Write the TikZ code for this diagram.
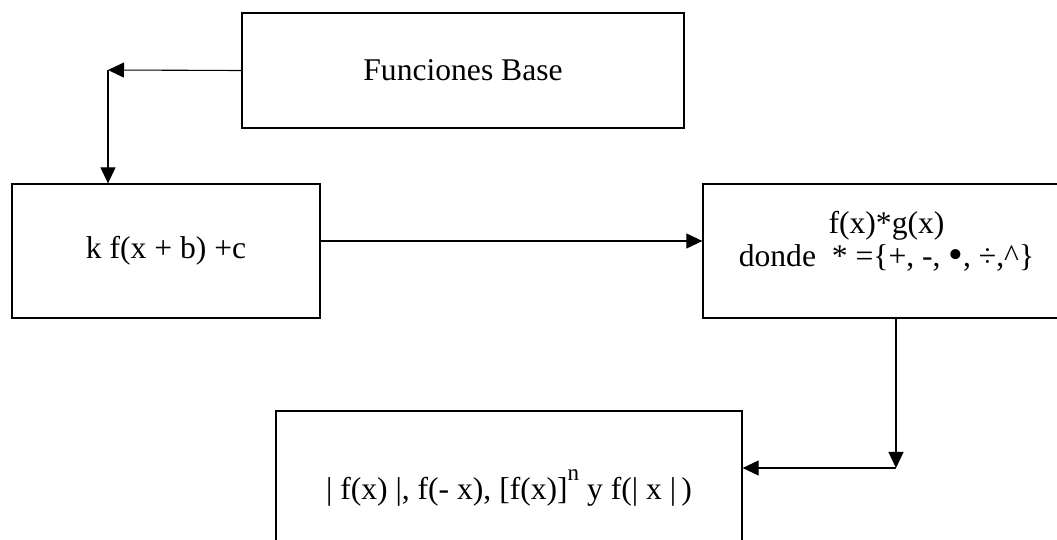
\documentclass[tikz,border=0pt]{standalone}
\usepackage{fontspec}
\setmainfont{Liberation Serif}
\usetikzlibrary{arrows.meta,positioning,calc}

\newcommand{\bigdot}{\raisebox{-0.8pt}{\fontsize{21}{16}\selectfont\textbullet}}
\newcommand{\hisup}[1]{\raisebox{0.6em}{\fontsize{11.5}{12}\selectfont #1}}

\begin{document}
\begin{tikzpicture}[
  x=0.5pt, y=-0.5pt,
  font=\fontsize{15.8}{16.3}\selectfont,
  blk/.style = {draw=black, line width=0.65pt, fill=white, align=center, inner sep=0pt},
  ln/.style  = {-{Triangle[length=8pt, width=7.5pt]}, draw=black, line width=0.55pt},
]
\useasboundingbox (0,0) rectangle (1057,540);
\clip (0,0) rectangle (1057,540);

% --- the four boxes ------------------------------------------------------------------------------
\node[blk, minimum width=221pt, minimum height=57.5pt] (base) at (463,70.5) {Funciones Base};
\node[blk, minimum width=154pt, minimum height=67pt] (trans) at (166,251) {k f(x + b) +c};
\node[blk, minimum width=183.5pt, minimum height=67pt, text depth=12pt] (oper) at (886.5,251)
  {f(x)*g(x)\\donde\ \ * =\{+, -, \bigdot, ÷,\textasciicircum\}};
\node[blk, minimum width=233pt, minimum height=77pt] (abso) at (509,488)
  {| f(x) |, f(- x), [f(x)]\hisup{n} y f(| x |\,)};

% --- connectors ----------------------------------------------------------------------------------
\coordinate (c1) at (108,70);
\draw[ln] (base.west) -- (c1);
\draw[ln] (c1) -- (c1 |- trans.north);

\draw[ln] ([yshift=5pt]trans.east) -- ([yshift=5pt]trans.east -| oper.west);

\coordinate (c2) at (896,468);
\draw[ln] (c2 |- oper.south) -- (c2);
\draw[ln] (c2) -- (c2 -| abso.east);

\end{tikzpicture}
\end{document}
